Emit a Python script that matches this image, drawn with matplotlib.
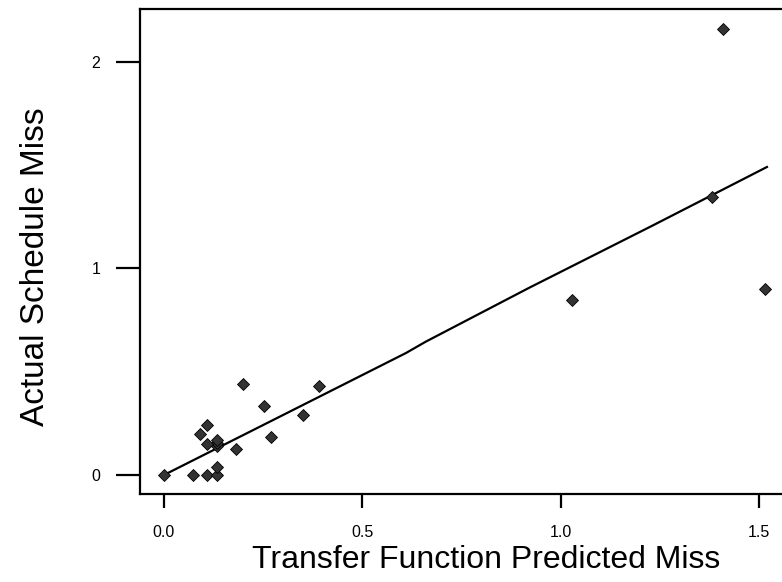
import matplotlib
matplotlib.use("agg")
import matplotlib.pyplot as plt

# Observed points (predicted vs actual schedule miss)
predicted = [0.0, 0.072, 0.108, 0.133, 0.133, 0.133, 0.133, 0.133, 0.108, 0.091,
             0.108, 0.181, 0.199, 0.253, 0.271, 0.350, 0.392,
             1.029, 1.381, 1.409, 1.515]
actual = [0.0, 0.0, 0.0, 0.0, 0.037, 0.14, 0.153, 0.17, 0.152, 0.198,
          0.243, 0.127, 0.440, 0.335, 0.185, 0.290, 0.429,
          0.847, 1.345, 2.158, 0.90]

# Smoothed fit line
fit_x = [0.0, 0.30, 0.61, 0.66, 0.92, 1.23, 1.52]
fit_y = [0.0, 0.29, 0.59, 0.645, 0.905, 1.205, 1.49]

x_ticks = [0.0, 0.5, 1.0, 1.5]
y_ticks = [0, 1, 2]

plt.rcParams["font.family"] = ["Liberation Sans", "DejaVu Sans"]

fig = plt.figure(figsize=(7.82, 5.82), dpi=100)
ax = fig.add_axes([0.179, 0.1512, 0.821, 0.8325])

ax.plot(fit_x, fit_y, color="black", linewidth=1.6, zorder=2)
ax.plot(predicted, actual, linestyle="none", marker="D", markersize=6.2,
        markerfacecolor="#333333", markeredgecolor="black", markeredgewidth=0.6,
        zorder=3)

ax.set_xlim(-0.0605, 1.558)
ax.set_ylim(-0.092, 2.252)

ax.set_xticks(x_ticks)
ax.set_xticklabels(["0.0", "0.5", "1.0", "1.5"])
ax.set_yticks(y_ticks)
ax.set_yticklabels(["0", "1", "2"])

for side in ["left", "top", "bottom"]:
    ax.spines[side].set_linewidth(1.6)
ax.spines["right"].set_visible(False)

ax.tick_params(axis="x", direction="out", length=10, width=1.6, pad=12, labelsize=11.5)
ax.tick_params(axis="y", direction="out", length=17.5, width=1.6, pad=11, labelsize=11.5)

ax.set_xlabel("Transfer Function Predicted Miss", fontsize=23)
ax.set_ylabel("Actual Schedule Miss", fontsize=24)
# the original plot area runs past the right edge, so labels sit off-centre
ax.xaxis.set_label_coords(0.539, -0.105)
ax.yaxis.set_label_coords(-0.138, 0.47)

fig.savefig("out.png", dpi=100)
